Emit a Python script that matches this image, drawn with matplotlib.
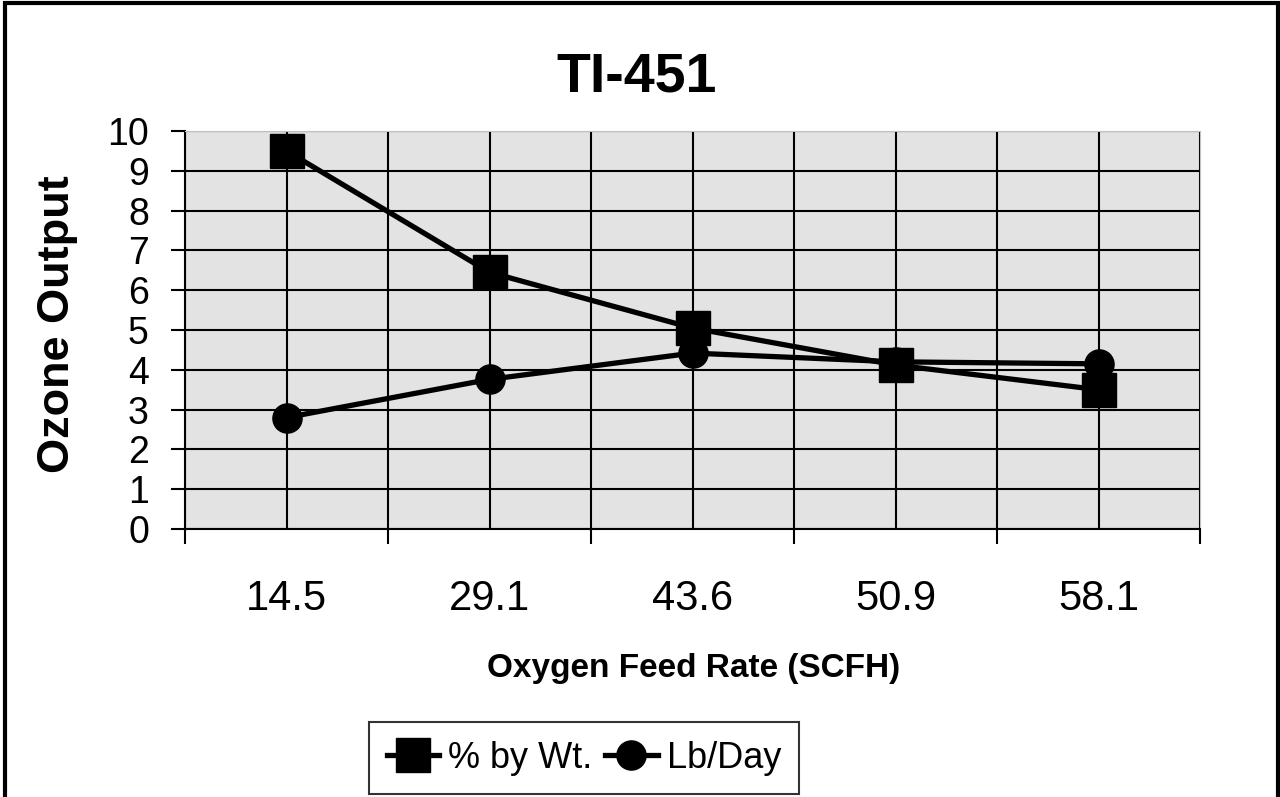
import matplotlib.pyplot as plt
from matplotlib.patches import Rectangle
from matplotlib.lines import Line2D

# data
feed_rate = ['14.5', '29.1', '43.6', '50.9', '58.1']
pct_by_wt = [9.5, 6.45, 5.05, 4.12, 3.5]
lb_per_day = [2.8, 3.76, 4.42, 4.2, 4.15]

plt.rcParams['font.family'] = ['Liberation Sans', 'DejaVu Sans']

fig = plt.figure(figsize=(12.8, 7.97), dpi=100)
ax = fig.add_axes([185 / 1280, 1 - 529 / 797, 1015 / 1280, 398 / 797])
ax.set_facecolor('#e3e3e3')

x = list(range(len(feed_rate)))
ax.plot(x, lb_per_day, color='black', lw=3.8, marker='o', markersize=21, zorder=3)
ax.plot(x, pct_by_wt, color='black', lw=3.8, marker='s', markersize=25, zorder=4)

ax.set_xlim(-0.5, len(feed_rate) - 0.5)
ax.set_ylim(0, 10)

# category boundaries carry the tick marks, centres carry the labels
ax.set_xticks([i - 0.5 for i in range(len(feed_rate) + 1)])
ax.set_xticklabels([])
ax.set_xticks(x, minor=True)
ax.set_xticklabels(feed_rate, minor=True, fontsize=30)
ax.tick_params(axis='x', which='major', direction='out', length=11, width=1.5, color='black')
ax.tick_params(axis='x', which='minor', length=0, pad=36)

ax.set_yticks(range(0, 11))
ax.tick_params(axis='y', direction='out', length=10, width=1.5, pad=16, labelsize=27)

ax.grid(True, which='both', axis='x', color='black', lw=1.5, zorder=1)
ax.grid(True, which='major', axis='y', color='black', lw=1.5, zorder=1)
ax.set_axisbelow(True)

ax.spines['left'].set_linewidth(1.5)
ax.spines['bottom'].set_linewidth(1.5)
ax.spines['top'].set_color('#c0c0c0')
ax.spines['right'].set_color('#c0c0c0')

fig.text(637 / 1280, 1 - 78 / 797, 'TI-451', fontsize=40, fontweight='bold', ha='center', va='center')
fig.text(58 / 1280, 1 - 324 / 797, 'Ozone Output', fontsize=32.5, fontweight='bold',
         rotation=90, ha='center', va='center')
fig.text(694 / 1280, 1 - 668 / 797, 'Oxygen Feed Rate (SCFH)', fontsize=24, fontweight='bold',
         ha='center', va='center')

handles = [
    Line2D([], [], color='black', lw=3.8, marker='s', markersize=25),
    Line2D([], [], color='black', lw=3.8, marker='o', markersize=21),
]
leg = fig.legend(handles, ['% by Wt.', 'Lb/Day'], loc='center', bbox_to_anchor=(584 / 1280, 1 - 758 / 797),
                 ncol=2, fontsize=26, frameon=True, fancybox=False, edgecolor='black',
                 handlelength=1.45, handletextpad=0.25, columnspacing=0.35, borderpad=0.5,
                 borderaxespad=0)
leg.get_frame().set_linewidth(1.5)

# outer border of the chart
fig.patches.append(Rectangle((5 / 1280, -0.1), 1273 / 1280, 1.1 - 3 / 797, transform=fig.transFigure,
                             fill=False, edgecolor='black', lw=3))

fig.savefig('out.png', dpi=100)
